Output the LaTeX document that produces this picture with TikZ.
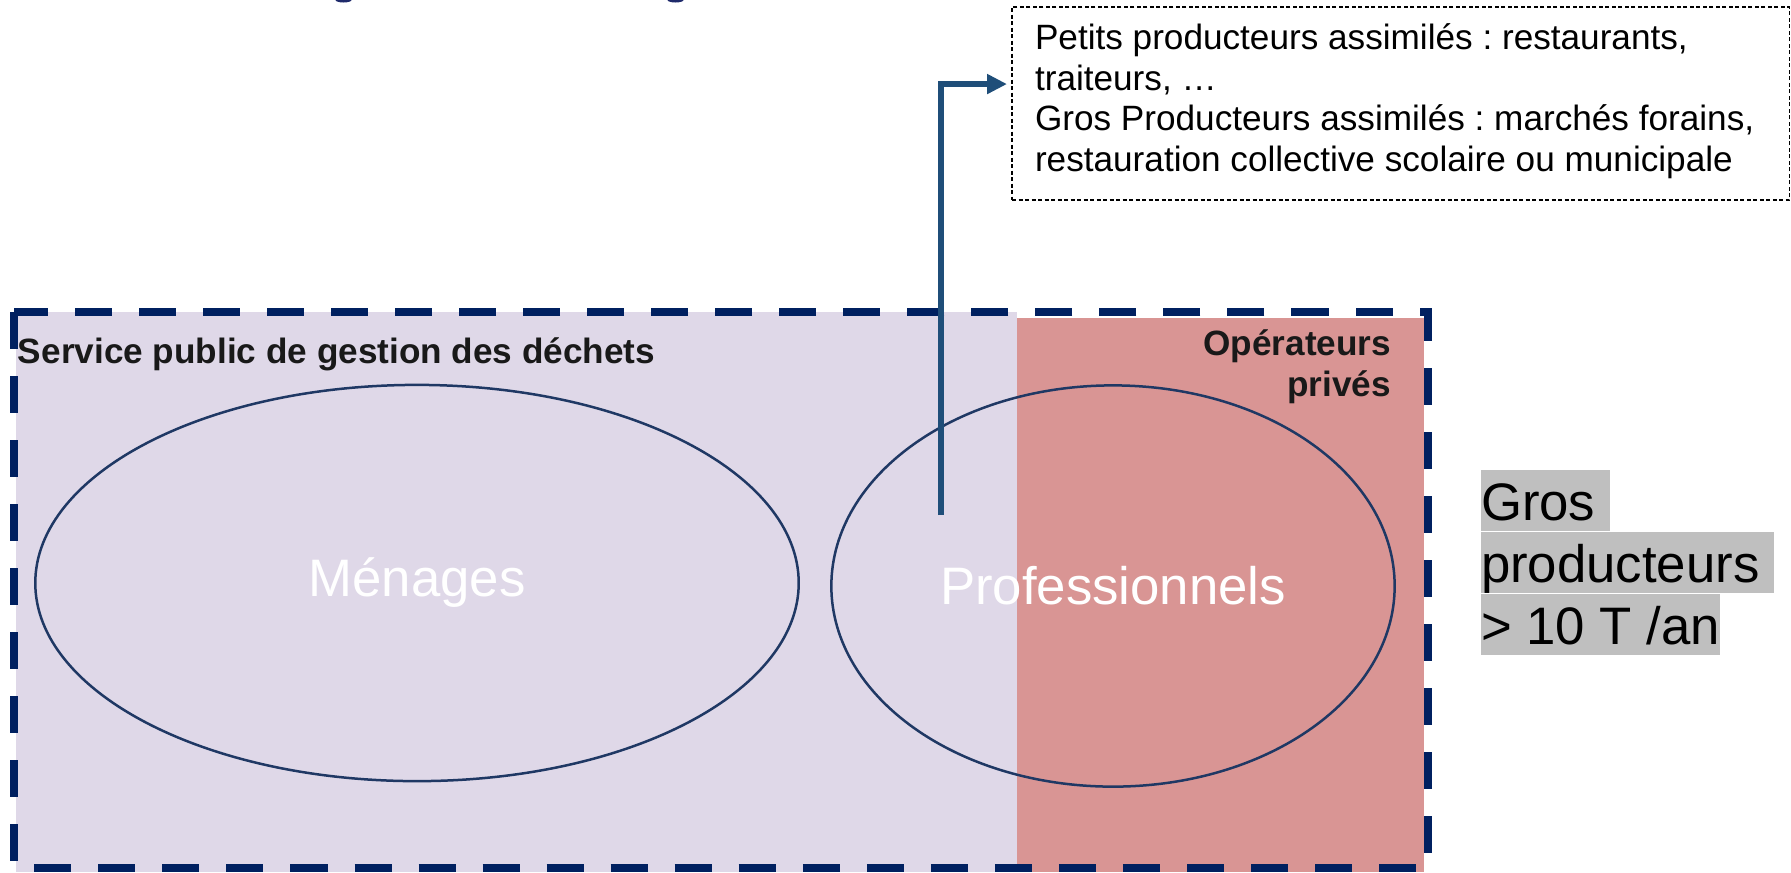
\documentclass[tikz,border=0pt]{standalone}
\usepackage{fontspec}
\setmainfont{Liberation Sans}
\usetikzlibrary{arrows.meta,shapes.geometric}
\definecolor{lav}{HTML}{DFD8E8}
\definecolor{pinkop}{HTML}{D99594}
\definecolor{navy}{HTML}{002060}
\definecolor{ellblue}{HTML}{1F3864}
\definecolor{arrblue}{HTML}{1F4E79}
\definecolor{hl}{HTML}{BFBFBF}
\definecolor{titlebl}{HTML}{1F2A6B}
\frenchspacing
\begin{document}
\begin{tikzpicture}[x=0.01cm,y=-0.01cm,
  small/.style={font=\fontsize{10}{12}\selectfont, inner sep=0, outer sep=0},
  smallbold/.style={font=\fontsize{10}{12}\selectfont\bfseries, inner sep=0, outer sep=0, text=black!90},
  hlbox/.style={font=\fontsize{15}{18}\selectfont, inner sep=0, outer sep=0, fill=hl, text height=0.5cm, text depth=0.11cm, anchor=base west},
  ellnode/.style={ellipse, draw=ellblue, line width=0.025cm, text=white, font=\fontsize{15}{18}\selectfont, inner sep=0, outer sep=0},
  border/.style={draw=navy, line width=0.08cm, dash pattern=on 0.37cm off 0.27cm},
  infobox/.style={draw=black, line width=0.013cm, dash pattern=on 0.04cm off 0.025cm, inner sep=0, outer sep=0},
  link/.style={draw=arrblue, line width=0.055cm, -{Triangle[length=0.2cm,width=0.19cm]}}
]
\useasboundingbox (0,0) rectangle (1791,872);
% title remnants cut by the top edge
\fill[titlebl] (343.5,0) ellipse (0.08cm and 0.025cm);
\fill[titlebl] (675.5,0) ellipse (0.08cm and 0.025cm);
% areas
\fill[lav] (16,312) rectangle (1017,872);
\fill[pinkop] (1017,318) rectangle (1424,872);
% ellipses
\node[ellnode, minimum width=7.63cm, minimum height=3.96cm] (menages) at (417,583) {Ménages};
\node[ellnode, minimum width=5.63cm, minimum height=4.01cm] (pros) at (1113,586) {Professionnels};
% dashed border
\draw[border] (14,312) rectangle (1428,868);
% labels
\node[smallbold, anchor=base west] (spgd) at (18,363) {Service public de gestion des déchets};
\node[smallbold, anchor=base east] (op1) at (1391,355) {Opérateurs};
\node[smallbold, anchor=base east] (op2) at (1391,396) {privés};
% info box
\node[infobox, minimum width=7.77cm, minimum height=1.93cm, anchor=north west] (info) at (1012,7) {};
\node[small, anchor=base west] (l1) at (1035,49) {Petits producteurs assimilés : restaurants,};
\node[small, anchor=base west] (l2) at (1035,90) {traiteurs, …};
\node[small, anchor=base west] (l3) at (1035,130) {Gros Producteurs assimilés : marchés forains,};
\node[small, anchor=base west] (l4) at (1035,171) {restauration collective scolaire ou municipale};
% arrow
\coordinate (astart) at (941,515);
\draw[link] (astart) |- ([xshift=-0.05cm,yshift=0.195cm]info.west);
% gros producteurs
\node[hlbox] (g1) at (1481,520) {Gros\kern0.278em};
\node[hlbox] (g2) at (1481,582) {producteurs\kern0.278em};
\node[hlbox] (g3) at (1481,644) {> 10 T /an};
\end{tikzpicture}
\end{document}
